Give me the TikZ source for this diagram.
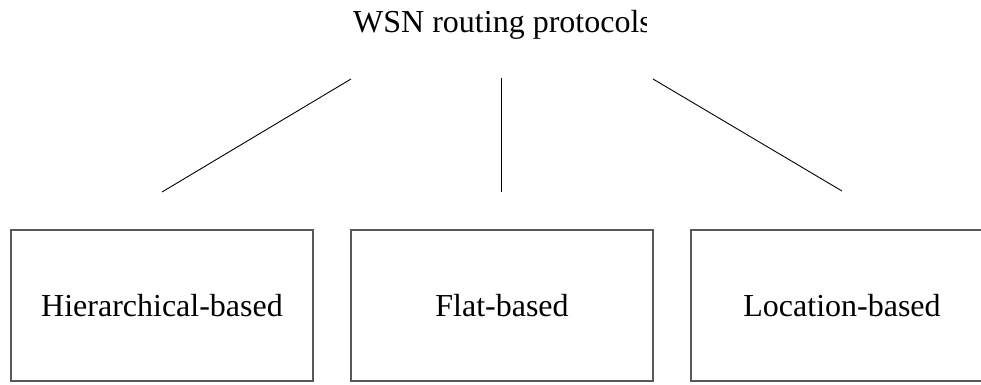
\documentclass[tikz,border=0pt]{standalone}
\usepackage{fontspec}
\setmainfont{Liberation Serif}
\begin{document}
\begin{tikzpicture}[x=1pt,y=-1pt,
  catbox/.style={draw=black!65, line width=1.1pt, minimum width=302pt, minimum height=151pt, inner sep=0pt,
    font=\fontsize{32}{38}\selectfont},
  link/.style={draw=black, line width=0.9pt},
  titletext/.style={inner sep=0pt, anchor=base west, font=\fontsize{32}{38}\selectfont}]
\useasboundingbox (0,0) rectangle (981,384);
\clip (0,0) rectangle (981,384);
\begin{scope}
  \clip (0,0) rectangle (646,60);
  \node[titletext] (title) at (353,32) {WSN routing protocols};
\end{scope}
\node[catbox] (hier) at (162,305.5) {Hierarchical-based};
\node[catbox] (flat) at (502,305.5) {Flat-based};
\node[catbox] (loc) at (842,305.5) {Location-based};
\coordinate (t1) at (351,79);
\coordinate (t2) at (501,78);
\coordinate (t3) at (653,79);
\coordinate (b1) at (162,192);
\coordinate (b2) at (501,192);
\coordinate (b3) at (842,191);
\draw[link] (t1) -- (b1);
\draw[link] (t2) -- (b2);
\draw[link] (t3) -- (b3);
\end{tikzpicture}
\end{document}
